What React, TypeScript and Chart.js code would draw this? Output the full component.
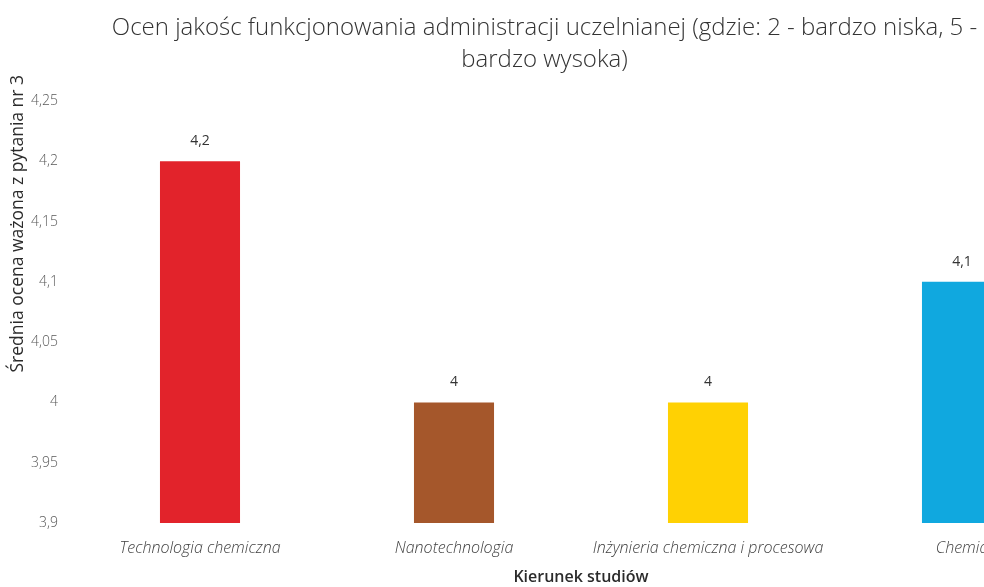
import React, { useEffect, useRef } from "react";
import { Chart, registerables } from "chart.js";

Chart.register(...registerables);

const categories = [
  "Technologia chemiczna",
  "Nanotechnologia",
  "Inżynieria chemiczna i procesowa",
  "Chemia",
];
const values = [4.2, 4.0, 4.0, 4.1];
const barColors = ["#E2232B", "#A5572B", "#FFD103", "#10A8DF"];
const titleLines = [
  "Ocen jakośc funkcjonowania administracji uczelnianej (gdzie: 2 - bardzo niska, 5 -",
  "bardzo wysoka)",
];
const yTitle = "Średnia ocena ważona z pytania nr 3";
const xTitle = "Kierunek studiów";
const yMin = 3.9;
const yMax = 4.25;
const yStep = 0.05;

const fmt = (v: number) => String(Math.round(v * 100) / 100).replace(".", ",");

const valueLabels = {
  id: "valueLabels",
  afterDatasetsDraw(chart: any) {
    const ctx = chart.ctx;
    const meta = chart.getDatasetMeta(0);
    ctx.save();
    ctx.font = "14px 'Open Sans'";
    ctx.fillStyle = "#333333";
    ctx.textAlign = "center";
    ctx.textBaseline = "middle";
    meta.data.forEach((el: any, i: number) => {
      ctx.fillText(fmt(values[i]), el.x, el.y - 20);
    });
    ctx.restore();
  },
};

const yTitlePlugin = {
  id: "yTitlePlugin",
  afterDraw(chart: any) {
    const ctx = chart.ctx;
    const area = chart.chartArea;
    ctx.save();
    ctx.font = "17.5px 'Open Sans'";
    ctx.fillStyle = "#2b2b2b";
    ctx.textAlign = "right";
    ctx.textBaseline = "middle";
    ctx.translate(18, area.top - 26);
    ctx.rotate(-Math.PI / 2);
    ctx.fillText(yTitle, 0, 0);
    ctx.restore();
  },
};

export default function App() {
  const ref = useRef<HTMLCanvasElement | null>(null);
  useEffect(() => {
    if (!ref.current) return;
    const chart = new Chart(ref.current, {
      type: "bar",
      data: {
        labels: categories,
        datasets: [
          {
            data: values,
            backgroundColor: barColors,
            categoryPercentage: 0.8,
            barPercentage: 0.394,
          },
        ],
      },
      options: {
        responsive: false,
        animation: false,
        devicePixelRatio: 1,
        layout: { padding: { left: 0, right: 5, top: 0, bottom: 0 } },
        plugins: {
          legend: { display: false },
          tooltip: { enabled: false },
          title: {
            display: true,
            text: titleLines,
            color: "#333333",
            font: { family: "Open Sans", size: 24, weight: "300", lineHeight: 1.333 },
            padding: { top: 12, bottom: 25 },
          },
        },
        scales: {
          x: {
            grid: { display: false, drawTicks: false },
            border: { display: false },
            ticks: {
              color: "#404040",
              font: { family: "Open Sans", size: 16, style: "italic", weight: "300" },
              padding: 16,
              maxRotation: 0,
              autoSkip: false,
            },
            title: {
              display: true,
              text: xTitle,
              color: "#2b2b2b",
              font: { family: "Open Sans", size: 16, weight: "600", lineHeight: 1.2 },
              padding: { top: 4, bottom: 0 },
            },
            afterFit(scale: any) {
              scale.height = 64;
            },
          },
          y: {
            min: yMin,
            max: yMax,
            grid: { display: false, drawTicks: false },
            border: { display: false },
            ticks: {
              stepSize: yStep,
              color: "#595959",
              font: { family: "Open Sans", size: 14, weight: "300" },
              padding: 15,
              callback: (v: any) => fmt(Number(v)),
            },
            afterFit(scale: any) {
              scale.width = 73;
            },
          },
        },
      },
      plugins: [valueLabels, yTitlePlugin],
    });
    return () => chart.destroy();
  }, []);
  return (
    <div
      style={{
        position: "fixed",
        left: 0,
        top: 0,
        width: 984,
        height: 587,
        overflow: "hidden",
        background: "#ffffff",
      }}
    >
      <canvas ref={ref} width={1094} height={587} style={{ display: "block" }} />
    </div>
  );
}
